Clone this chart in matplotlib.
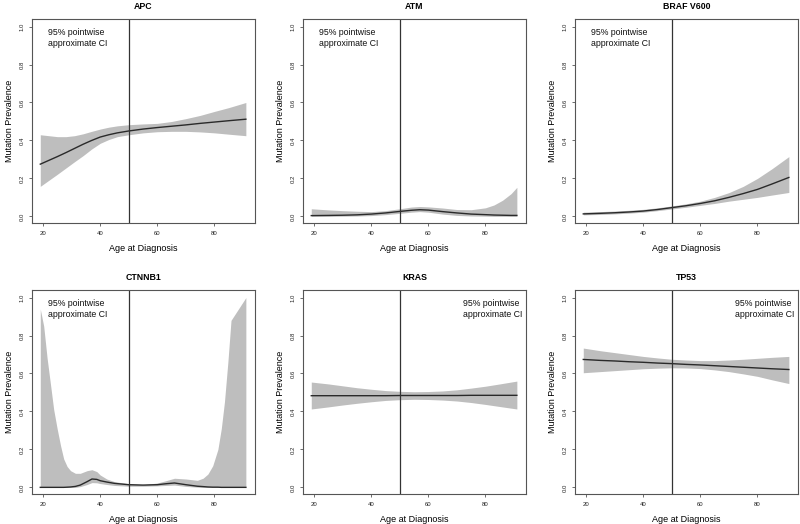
import matplotlib
matplotlib.use("Agg")
import matplotlib.pyplot as plt

plt.rcParams['font.family'] = ['Liberation Sans', 'DejaVu Sans']

genes = ["APC", "ATM", "BRAF V600", "CTNNB1", "KRAS", "TP53"]

apc_age = [19, 22, 25, 28, 31, 34, 37, 40, 43, 46, 50, 55, 60, 65, 70, 75, 80, 85, 91]
apc_fit = [0.275, 0.295, 0.315, 0.336, 0.358, 0.38, 0.40, 0.418, 0.43, 0.44, 0.45, 0.46, 0.468, 0.475, 0.482, 0.49, 0.497, 0.504, 0.512]
apc_hi = [0.43, 0.425, 0.42, 0.42, 0.425, 0.435, 0.448, 0.46, 0.47, 0.477, 0.483, 0.487, 0.49, 0.50, 0.515, 0.532, 0.553, 0.573, 0.60]
apc_lo = [0.158, 0.19, 0.222, 0.255, 0.288, 0.32, 0.355, 0.385, 0.405, 0.42, 0.43, 0.44, 0.446, 0.448, 0.448, 0.445, 0.44, 0.433, 0.425]

atm_age = [19, 25, 30, 35, 40, 45, 50, 54, 57, 60, 65, 70, 75, 80, 83, 86, 89, 91]
atm_fit = [0.004, 0.005, 0.006, 0.008, 0.012, 0.018, 0.026, 0.032, 0.035, 0.033, 0.025, 0.018, 0.012, 0.009, 0.007, 0.006, 0.005, 0.005]
atm_hi = [0.04, 0.034, 0.03, 0.027, 0.025, 0.03, 0.04, 0.049, 0.052, 0.05, 0.044, 0.036, 0.035, 0.045, 0.06, 0.085, 0.12, 0.153]
atm_lo = [0.0, 0.0, 0.001, 0.002, 0.004, 0.009, 0.016, 0.022, 0.025, 0.022, 0.012, 0.005, 0.002, 0.001, 0.0, 0.0, 0.0, 0.0]

braf_age = [19, 25, 30, 35, 40, 45, 50, 55, 60, 65, 70, 75, 80, 85, 91]
braf_fit = [0.013, 0.016, 0.019, 0.023, 0.028, 0.036, 0.046, 0.056, 0.068, 0.082, 0.10, 0.12, 0.142, 0.17, 0.205]
braf_hi = [0.022, 0.025, 0.028, 0.032, 0.037, 0.045, 0.055, 0.066, 0.08, 0.10, 0.125, 0.158, 0.20, 0.25, 0.315]
braf_lo = [0.008, 0.01, 0.013, 0.017, 0.022, 0.03, 0.039, 0.048, 0.058, 0.068, 0.08, 0.09, 0.10, 0.112, 0.126]

ctnnb1_age = [19, 20.2, 21.4, 22.6, 23.7, 24.9, 26.1, 27.2, 28.4, 29.6, 31.3, 33, 35.4, 37.1, 38.8, 40, 42.3, 45, 50, 55, 60, 63, 66, 70, 74, 76, 77.7, 79.4, 81.2, 82.4, 83.5, 84.7, 85.8, 91]
ctnnb1_hi = [0.94, 0.85, 0.68, 0.54, 0.41, 0.31, 0.22, 0.15, 0.11, 0.088, 0.074, 0.074, 0.088, 0.093, 0.083, 0.065, 0.044, 0.03, 0.019, 0.014, 0.023, 0.035, 0.048, 0.044, 0.037, 0.048, 0.07, 0.114, 0.20, 0.31, 0.45, 0.66, 0.88, 1.0]
ctnnb1_fit = [0.0, 0.0, 0.0, 0.0, 0.0, 0.0, 0.0, 0.0, 0.001, 0.002, 0.005, 0.012, 0.03, 0.044, 0.042, 0.035, 0.028, 0.021, 0.014, 0.012, 0.014, 0.019, 0.023, 0.014, 0.006, 0.004, 0.002, 0.001, 0.001, 0.0, 0.0, 0.0, 0.0, 0.0]
ctnnb1_lo = [0.0, 0.0, 0.0, 0.0, 0.0, 0.0, 0.0, 0.0, 0.0, 0.0, 0.0, 0.004, 0.015, 0.025, 0.024, 0.02, 0.015, 0.01, 0.006, 0.006, 0.008, 0.01, 0.012, 0.005, 0.001, 0.0, 0.0, 0.0, 0.0, 0.0, 0.0, 0.0, 0.0, 0.0]

kras_age = [19, 25, 30, 35, 40, 45, 50, 55, 60, 65, 70, 75, 80, 85, 91]
kras_fit = [0.483, 0.483, 0.483, 0.483, 0.483, 0.483, 0.484, 0.484, 0.484, 0.484, 0.484, 0.485, 0.485, 0.485, 0.485]
kras_hi = [0.555, 0.545, 0.535, 0.525, 0.517, 0.51, 0.506, 0.504, 0.505, 0.508, 0.514, 0.523, 0.533, 0.545, 0.56]
kras_lo = [0.413, 0.424, 0.434, 0.443, 0.451, 0.458, 0.462, 0.464, 0.463, 0.46, 0.455, 0.447, 0.437, 0.426, 0.413]

tp53_age = [19, 25, 30, 35, 40, 45, 50, 55, 60, 65, 70, 75, 80, 85, 91]
tp53_fit = [0.674, 0.669, 0.666, 0.662, 0.659, 0.655, 0.652, 0.648, 0.645, 0.641, 0.637, 0.633, 0.629, 0.625, 0.621]
tp53_hi = [0.734, 0.72, 0.71, 0.70, 0.69, 0.682, 0.675, 0.671, 0.668, 0.668, 0.671, 0.675, 0.68, 0.685, 0.69]
tp53_lo = [0.604, 0.61, 0.615, 0.62, 0.625, 0.628, 0.63, 0.629, 0.626, 0.619, 0.61, 0.598, 0.585, 0.567, 0.547]

ages = [apc_age, atm_age, braf_age, ctnnb1_age, kras_age, tp53_age]
fits = [apc_fit, atm_fit, braf_fit, ctnnb1_fit, kras_fit, tp53_fit]
his = [apc_hi, atm_hi, braf_hi, ctnnb1_hi, kras_hi, tp53_hi]
los = [apc_lo, atm_lo, braf_lo, ctnnb1_lo, kras_lo, tp53_lo]
legend_pos = ["left", "left", "left", "left", "right", "right"]

x_ticks = [20, 40, 60, 80]
y_ticks = [0.0, 0.2, 0.4, 0.6, 0.8, 1.0]
cutoff_age = 50

W, H = 800, 524
fig = plt.figure(figsize=(W / 100, H / 100), dpi=100)

col_left = [32, 303, 575]
row_top = [19, 290]
ax_w, ax_h = 223, 204

frame_col = "#555555"
for i, g in enumerate(genes):
    r, c = divmod(i, 3)
    left = col_left[c] / W
    bottom = 1 - (row_top[r] + ax_h) / H
    ax = fig.add_axes([left, bottom, ax_w / W, ax_h / H])
    ax.fill_between(ages[i], los[i], his[i], color="#bebebe", linewidth=0)
    ax.plot(ages[i], fits[i], color="#2a2a2a", linewidth=1.0)
    ax.axvline(cutoff_age, color="#333333", linewidth=0.9)
    ax.set_xlim(16.1, 94.2)
    ax.set_ylim(-0.035, 1.04)
    ax.set_xticks(x_ticks)
    ax.set_xticklabels([str(v) for v in x_ticks])
    ax.set_yticks(y_ticks)
    ax.set_yticklabels([f"{v:.1f}" for v in y_ticks], rotation=90, va="center")
    ax.tick_params(axis="both", length=2.5, width=0.6, color=frame_col,
                   labelsize=4.3, pad=3, labelcolor="#222222")
    for s in ax.spines.values():
        s.set_color(frame_col)
        s.set_linewidth(0.8)
    ax.set_title(g, fontsize=6.3, fontweight="bold", pad=7)
    ax.set_xlabel("Age at Diagnosis", fontsize=6.5, labelpad=6)
    ax.set_ylabel("Mutation Prevalence", fontsize=6.5, labelpad=4)
    txt = "95% pointwise\napproximate CI"
    if legend_pos[i] == "left":
        ax.text(0.072, 0.955, txt, transform=ax.transAxes, fontsize=6.3,
                ha="left", va="top", linespacing=1.25, color="#111111")
    else:
        ax.text(0.985, 0.955, txt, transform=ax.transAxes, fontsize=6.3,
                ha="right", va="top", multialignment="left", linespacing=1.25,
                color="#111111")

fig.savefig("out.png", dpi=100)
